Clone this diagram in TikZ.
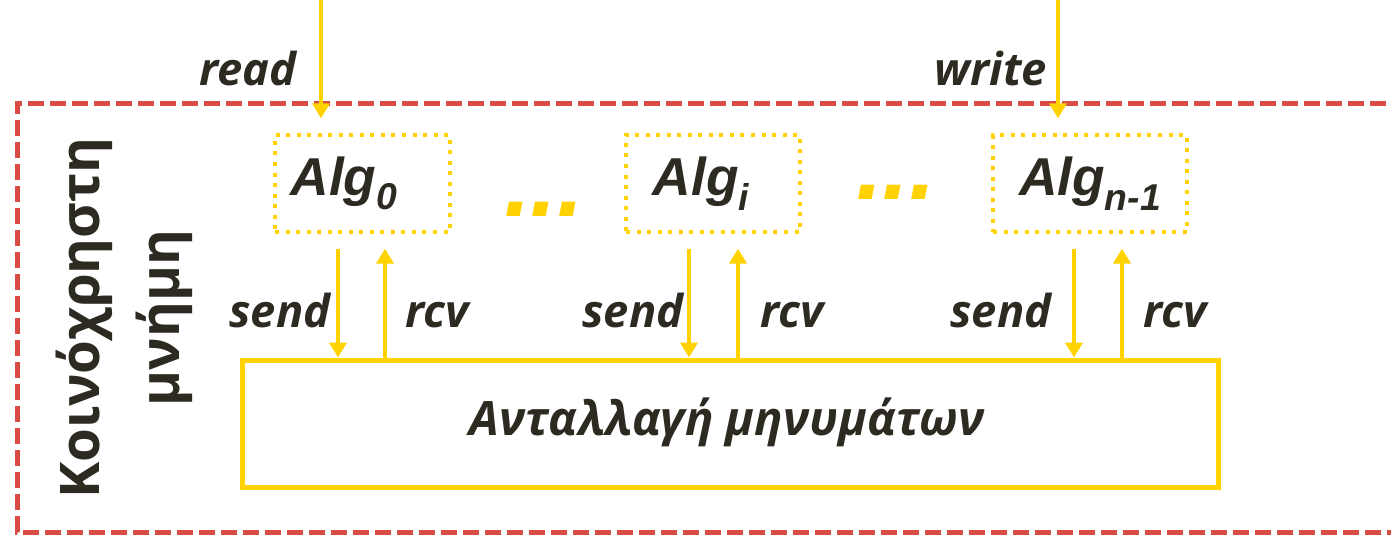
\documentclass[tikz,border=0pt]{standalone}
\usepackage{fontspec}
\setmainfont{Open Sans}
\newfontfamily\algfont{Liberation Sans}
\usetikzlibrary{arrows.meta}
\definecolor{ink}{HTML}{2D2A22}
\definecolor{gold}{HTML}{FFD200}
\definecolor{brick}{HTML}{D94C45}
\newcommand\algsub[1]{\raisebox{-11pt}{\fontsize{28}{28}\selectfont #1}}
\begin{document}
\begin{tikzpicture}[x=0.75pt,y=-0.75pt,
  lbl/.style={text=ink, font=\fontsize{34}{40}\selectfont\bfseries\itshape, inner sep=0pt, anchor=base},
  algbox/.style={draw=gold, line width=3pt, dash pattern=on 3pt off 4.9pt,
    minimum height=72.75pt, text=ink, font=\algfont\fontsize{40}{46}\selectfont\bfseries\itshape},
  flow/.style={draw=gold, line width=3.4pt, -{Triangle[width=12.75pt,length=11.25pt]}},
  dotsep/.style={text=gold, font=\algfont\fontsize{72}{72}\selectfont\bfseries\itshape, inner sep=0pt}
]
\useasboundingbox (0,0) rectangle (1391,536);
\clip (0,0) rectangle (1391,536);

% shared-memory frame (runs off to the right)
\draw[brick, line width=3.75pt, dash pattern=on 12pt off 4.5pt] (1430,103) -- (17,103) -- (17,532) -- (1430,532);

% vertical title
\node[rotate=90, text=ink, align=center, inner sep=0pt,
  font=\fontsize{41}{60}\selectfont\bfseries] (title) at (124,318) {Κοινόχρηστη\\μνήμη};

% algorithm instances (trailing space pulls the label a little to the left)
\node[algbox, minimum width=131.25pt] (alg0) at (362.5,183.5) {Alg\algsub{0}\hspace*{28pt}};
\node[algbox, minimum width=130.5pt] (algi) at (713,183.5) {Alg\algsub{i}\hspace*{18pt}};
\node[algbox, minimum width=145.5pt] (algn) at (1090,183.5) {Alg\algsub{n-1}};

\node[dotsep] (dotsA) at (544,209) {...};
\node[dotsep] (dotsB) at (896,192) {...};

% message-passing layer
\node[draw=gold, line width=3.75pt, minimum width=732pt, minimum height=95.25pt, inner sep=0pt] (msg) at (730,423.5) {};
\node[lbl, font=\fontsize{35.5}{42}\selectfont\bfseries\itshape] (msgtxt) at (727,435) {Ανταλλαγή μηνυμάτων};

% read / write inputs
\coordinate (readtop) at (321,0);
\coordinate (writetop) at (1058,0);
\draw[flow, shorten >=11pt] (readtop) -- (readtop |- alg0.north);
\draw[flow, shorten >=11pt] (writetop) -- (writetop |- algn.north);
\node[lbl] (readlbl) at (248,85) {read};
\node[lbl] (writelbl) at (991,85) {write};

% send / rcv pairs
\draw[flow, shorten <=11pt] (alg0.south -| 338,0) -- (msg.north -| 338,0);
\draw[flow, shorten >=11pt] (msg.north -| 385,0) -- (alg0.south -| 385,0);
\draw[flow, shorten <=11pt] (algi.south -| 689,0) -- (msg.north -| 689,0);
\draw[flow, shorten >=11pt] (msg.north -| 738,0) -- (algi.south -| 738,0);
\draw[flow, shorten <=11pt] (algn.south -| 1074,0) -- (msg.north -| 1074,0);
\draw[flow, shorten >=11pt] (msg.north -| 1122,0) -- (algn.south -| 1122,0);

\node[lbl] (send0) at (280,327) {send};
\node[lbl] (rcv0) at (437,327) {rcv};
\node[lbl] (sendi) at (633,327) {send};
\node[lbl] (rcvi) at (792,327) {rcv};
\node[lbl] (sendn) at (1001,327) {send};
\node[lbl] (rcvn) at (1175,327) {rcv};
\end{tikzpicture}
\end{document}
